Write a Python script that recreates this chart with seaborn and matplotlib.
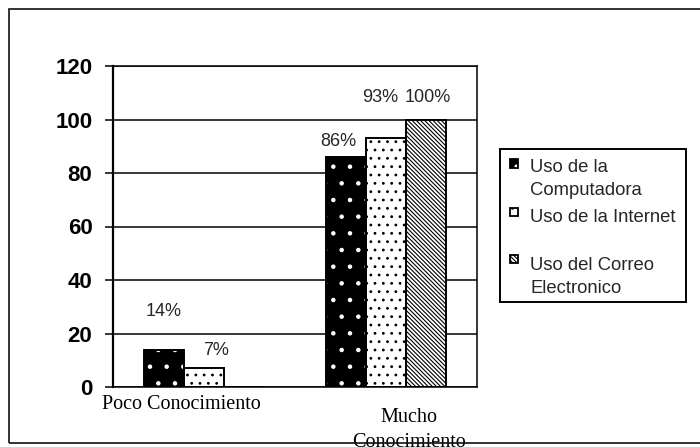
import matplotlib
matplotlib.use("Agg")
import matplotlib.pyplot as plt
from matplotlib.patches import Rectangle
from matplotlib.transforms import ScaledTranslation
import pandas as pd
import seaborn as sns

# datos
categorias = ["Poco Conocimiento", "Mucho\nConocimiento"]
series = ["Uso de la Computadora", "Uso de la Internet", "Uso del Correo Electronico"]
leyenda = ["Uso de la\nComputadora", "Uso de la Internet", "Uso del Correo\nElectronico"]
computadora = [14, 86]
internet = [7, 93]
correo = [0, 100]
yticks = [0, 20, 40, 60, 80, 100, 120]

W, H = 700, 447


def fx(px):
    return px / W


def fy(py):
    return 1 - py / H


sns.set_style("white")
plt.rcParams["font.family"] = ["Liberation Sans", "DejaVu Sans"]
plt.rcParams["hatch.linewidth"] = 0.8

df = pd.DataFrame({
    "Conocimiento": categorias * len(series),
    "Uso": [s for s in series for _ in categorias],
    "Porcentaje": computadora + internet + correo,
})

fig = plt.figure(figsize=(7, 4.47), dpi=100)
ax = fig.add_axes([fx(113), fy(387), fx(477) - fx(113), fy(66) - fy(387)])

sns.barplot(
    data=df, x="Conocimiento", y="Porcentaje", hue="Uso",
    order=categorias, hue_order=series,
    palette=["black", "white", "white"], saturation=1,
    width=0.66, gap=0, legend=False, ax=ax,
)

# relleno de cada serie: (color de fondo, trama, color de trama)
estilos = [("black", ".", "white"), ("white", "..", "black"), ("white", "\\" * 8, "black")]
valores = [computadora, internet, correo]
# desplazamiento de cada etiqueta respecto al tope de la barra (px)
despl_etiquetas = [[(0, 38), (-8, 15)], [(12, 18), (-6, 41)], [(0, 0), (2, 22)]]

for cont, (fc, hatch, hc), vals, offs in zip(ax.containers, estilos, valores, despl_etiquetas):
    for bar, v, off in zip(cont, vals, offs):
        bar.set_facecolor(fc)
        bar.set_hatch(hatch)
        bar.set_edgecolor(hc)
        bar.set_linewidth(0)
        ax.add_patch(Rectangle(bar.get_xy(), bar.get_width(), bar.get_height(),
                               fill=False, edgecolor="black", linewidth=1.4, zorder=3))
        if v > 0:
            ax.annotate(f"{v}%", xy=(bar.get_x() + bar.get_width() / 2, bar.get_height()),
                        xytext=off, textcoords="offset pixels", ha="center", va="center",
                        fontsize=13, annotation_clip=False)

ax.set_xlim(-0.5, len(categorias) - 0.5)
ax.set_ylim(0, 120)
ax.set_xlabel("")
ax.set_ylabel("")
ax.set_axisbelow(True)
ax.grid(axis="y", color="black", linewidth=1.1)
ax.grid(axis="x", visible=False)
for lado, sp in ax.spines.items():
    sp.set_visible(True)
    sp.set_color("black")
    sp.set_linewidth(1.6 if lado == "left" else 1.1)

ax.set_yticks(yticks, labels=[str(v) for v in yticks], fontweight="bold", fontsize=16)
ax.tick_params(axis="y", direction="out", length=5.8, width=1.1, pad=9, colors="black", left=True)
ax.set_xticks(range(len(categorias)), labels=categorias,
              family=["Liberation Serif", "DejaVu Serif"], fontsize=14.5, linespacing=1.45)
ax.tick_params(axis="x", length=0, pad=3, colors="black")
despl_cat = [(-23, -4), (23, -17)]
for lab, (dx, dy) in zip(ax.get_xticklabels(), despl_cat):
    lab.set_transform(lab.get_transform() + ScaledTranslation(dx / 100, dy / 100, fig.dpi_scale_trans))

# leyenda a mano (el simbolo va alineado con la primera linea)
fig.add_artist(Rectangle((fx(500), fy(302)), fx(686) - fx(500), fy(149) - fy(302),
                         transform=fig.transFigure, fill=False, edgecolor="black", linewidth=1.4))
centros = [163.5, 212, 259]
bases = [195, 222, 293]  # linea base de la ultima linea de cada texto
for texto, (fc, hatch, hc), yc, yb in zip(leyenda, estilos, centros, bases):
    fig.add_artist(Rectangle((fx(510), fy(yc + 4)), 8 / W, 8 / H, transform=fig.transFigure,
                             facecolor=fc, hatch=hatch, edgecolor=hc, linewidth=0))
    fig.add_artist(Rectangle((fx(510), fy(yc + 4)), 8 / W, 8 / H, transform=fig.transFigure,
                             fill=False, edgecolor="black", linewidth=1.3))
    fig.text(fx(530), fy(yb), texto, va="baseline", ha="left", fontsize=13.3, linespacing=1.47)

# marco exterior
fig.add_artist(Rectangle((fx(9), fy(443)), 1.0, fy(9) - fy(443), transform=fig.transFigure,
                         fill=False, edgecolor="#111111", linewidth=1.2, zorder=10))

fig.savefig("out.png", dpi=100)
plt.close(fig)
